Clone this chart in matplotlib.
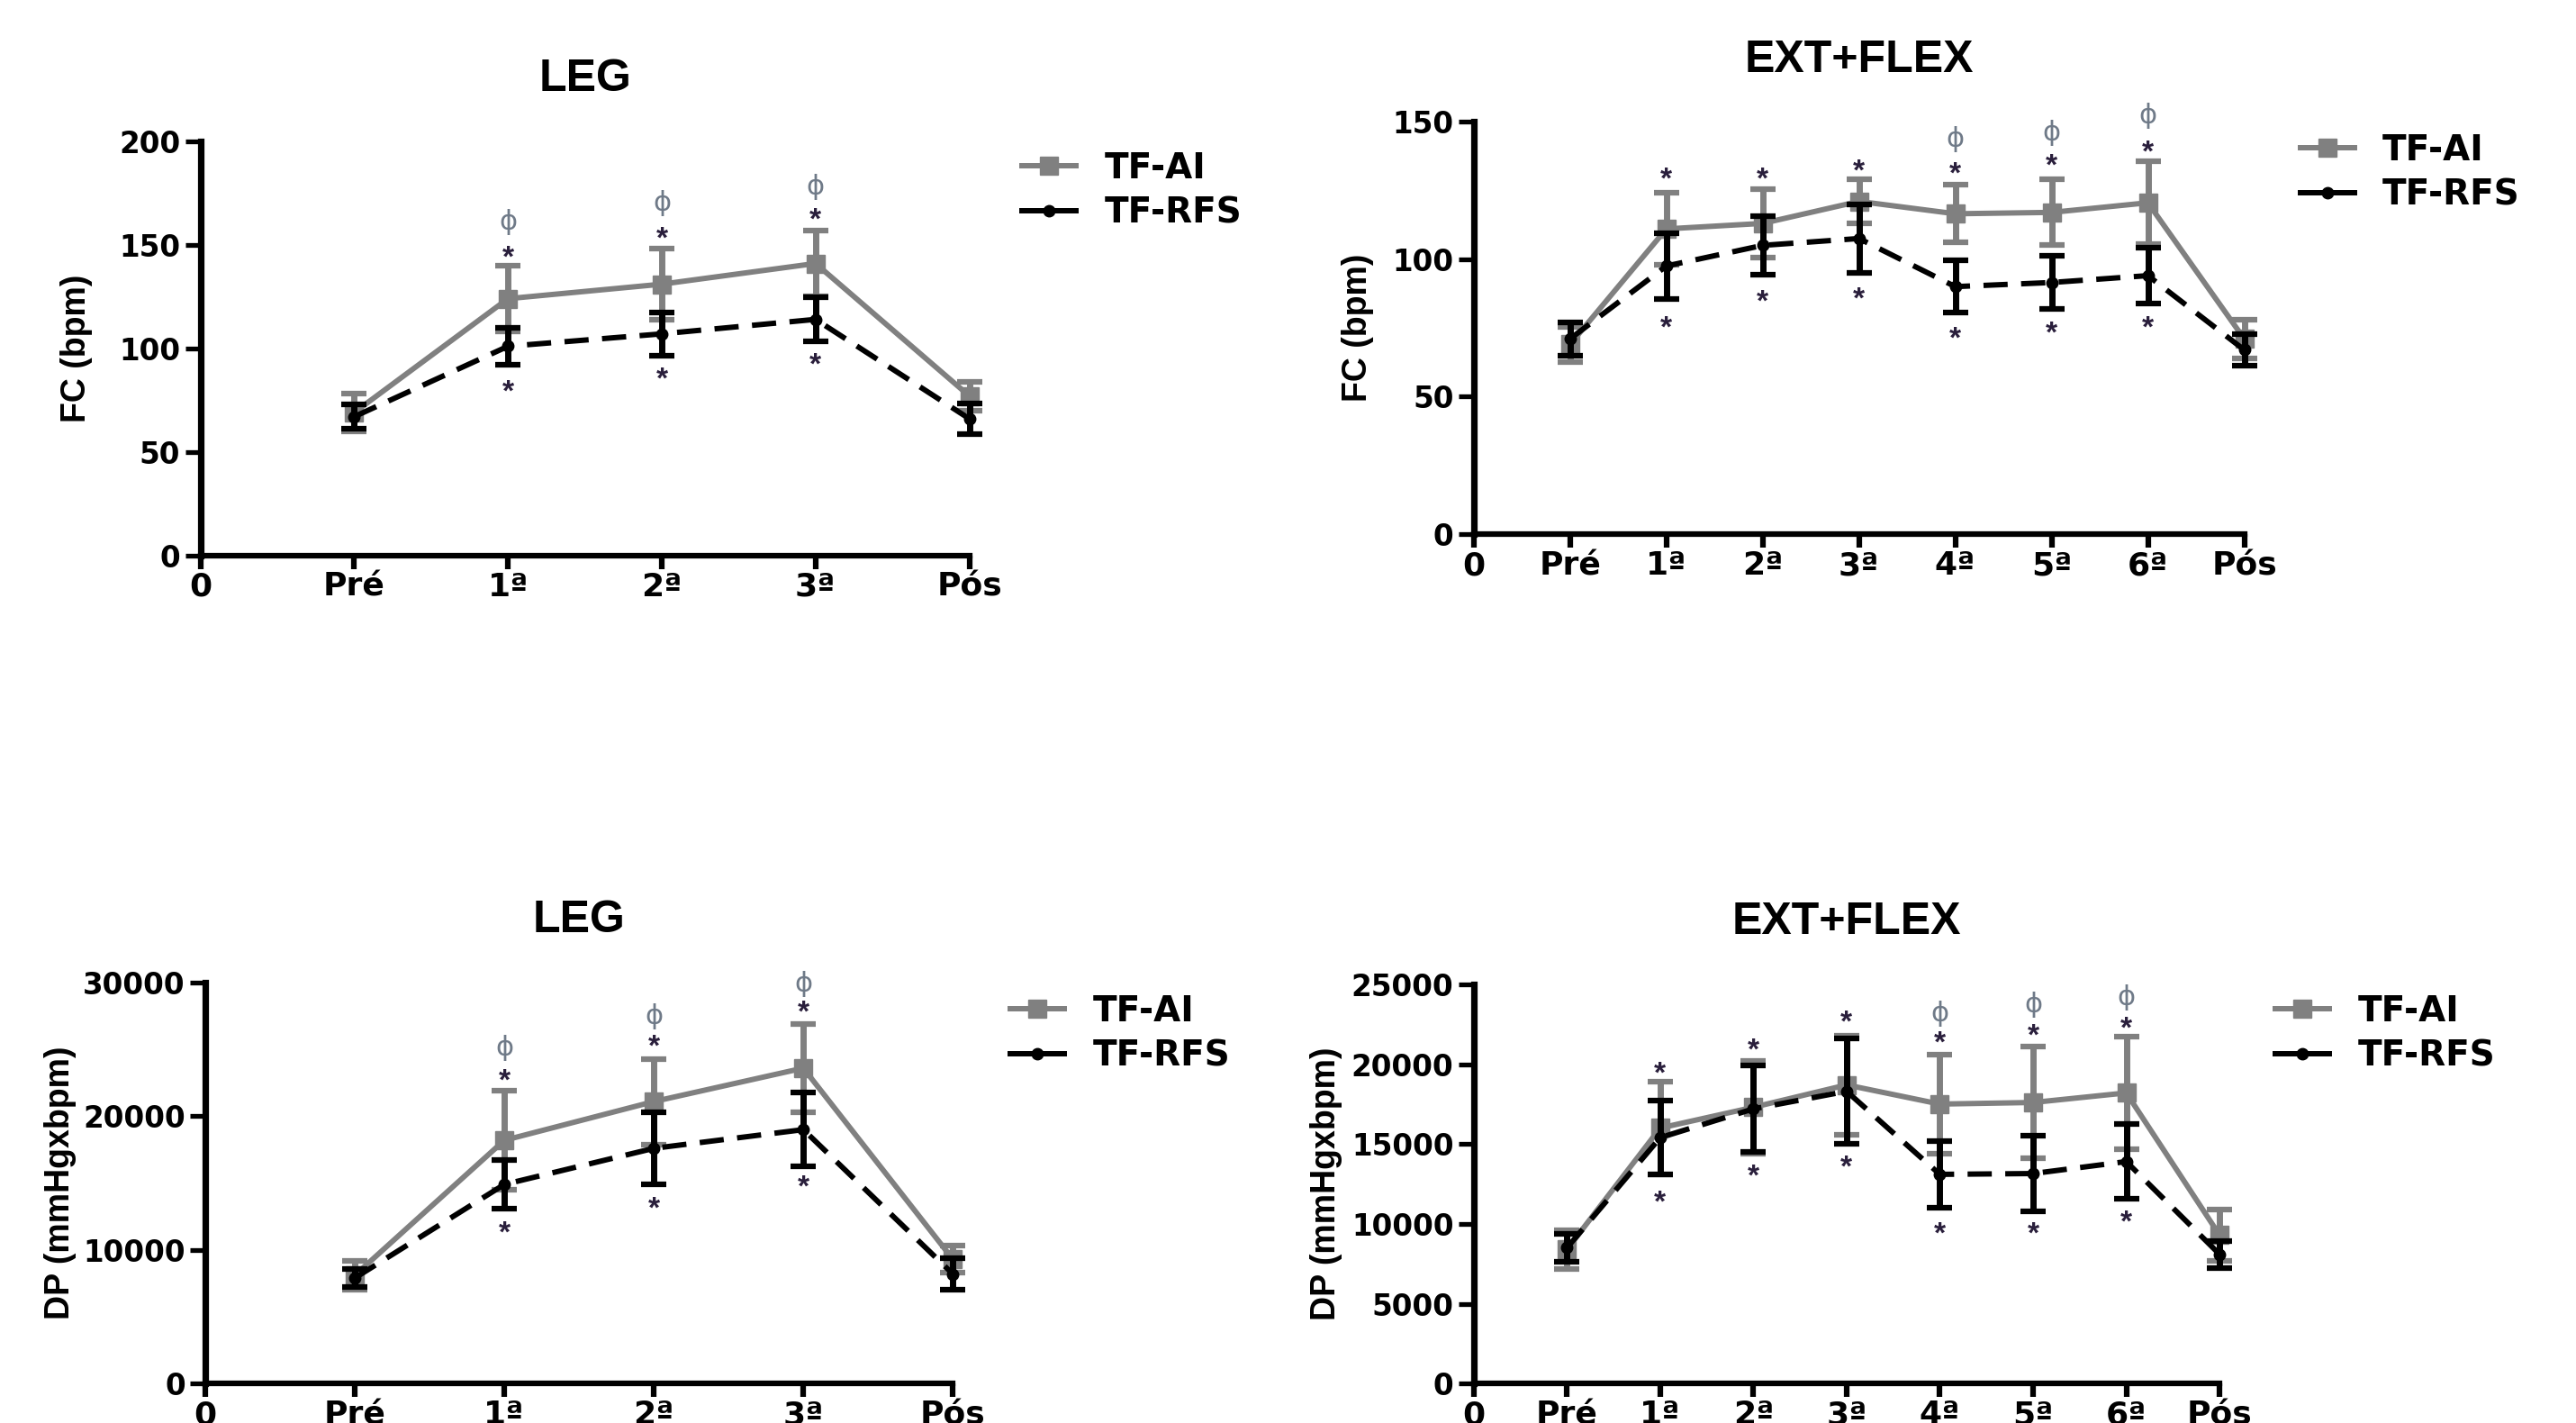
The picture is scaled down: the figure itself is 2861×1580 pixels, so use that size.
import matplotlib
matplotlib.use('Agg')
import matplotlib.pyplot as plt
from matplotlib.lines import Line2D

plt.rcParams['font.family'] = ['Liberation Sans', 'DejaVu Sans']
plt.rcParams['font.weight'] = 'bold'

# ---------------- data ----------------
leg_cats = ['0', 'Pré', '1ª', '2ª', '3ª', 'Pós']
ext_cats = ['0', 'Pré', '1ª', '2ª', '3ª', '4ª', '5ª', '6ª', 'Pós']
series_names = ['TF-AI', 'TF-RFS']

fc_leg_ai = [69, 124, 131, 141, 77]
fc_leg_ai_sd = [9, 16, 17, 16, 7]
fc_leg_rfs = [67, 101, 107, 114, 66]
fc_leg_rfs_sd = [6, 9, 10.5, 10.5, 7.5]
fc_leg_star_up = [None, 148, 157, 166, None]
fc_leg_phi = [None, 161, 170, 178, None]
fc_leg_star_low = [None, 83, 89, 96, None]

fc_ext_ai = [69, 111, 113, 121, 116.5, 117, 120.5, 71]
fc_ext_ai_sd = [6.5, 13, 12.5, 8, 10.5, 12, 15, 7]
fc_ext_rfs = [71, 97.5, 105, 107.5, 90, 91.5, 94, 67]
fc_ext_rfs_sd = [6, 12, 10.5, 12.5, 9.5, 9.7, 10.2, 5.6]
fc_ext_star_up = [None, 132, 132, 135, 134, 137, 142, None]
fc_ext_phi = [None, None, None, None, 143.5, 146, 152, None]
fc_ext_star_low = [None, 78, 87.5, 88.5, 74, 76, 78, None]

dp_leg_ai = [8100, 18200, 21100, 23600, 9300]
dp_leg_ai_sd = [1100, 3700, 3200, 3300, 1000]
dp_leg_rfs = [7900, 14900, 17600, 19000, 8200]
dp_leg_rfs_sd = [700, 1800, 2700, 2750, 1150]
dp_leg_star_up = [None, 23300, 25800, 28400, None]
dp_leg_phi = [None, 25100, 27500, 29900, None]
dp_leg_star_low = [None, 11900, 13700, 15300, None]

dp_ext_ai = [8400, 16000, 17300, 18700, 17500, 17600, 18200, 9300]
dp_ext_ai_sd = [1200, 2900, 2900, 3100, 3100, 3500, 3500, 1600]
dp_ext_rfs = [8500, 15400, 17200, 18300, 13100, 13150, 13900, 8100]
dp_ext_rfs_sd = [900, 2300, 2700, 3300, 2100, 2350, 2350, 850]
dp_ext_star_up = [None, 19900, 21400, 23150, 21850, 22300, 22750, None]
dp_ext_phi = [None, None, None, None, 23150, 23700, 24200, None]
dp_ext_star_low = [None, 11850, 13500, 14050, 9900, 9900, 10600, None]

GRAY = '#808080'
STAR_C = '#2a1f3c'
PHI_C = '#6f7a88'
DASH = (0, (4.5, 2.5))
STAR_FS = 24

fig = plt.figure(figsize=(28.61, 15.80), dpi=100)


def star(ax, xi, yi):
    ax.annotate('*', xy=(xi, yi), xytext=(0, -0.56 * STAR_FS),
                textcoords='offset points', ha='center', va='baseline',
                fontsize=STAR_FS, color=STAR_C, fontweight='bold')


def draw(rect, cats, ai, ai_sd, rfs, rfs_sd, star_up, phi, star_low,
         ymax, ystep, title, ylabel, labx, leg_anchor):
    ax = fig.add_axes(rect)
    x = list(range(1, len(ai) + 1))
    c1 = ax.errorbar(x, ai, yerr=ai_sd, color=GRAY, lw=4.3, marker='s', ms=15,
                     capsize=10, capthick=4.5, elinewidth=5, zorder=3)
    c2 = ax.errorbar(x, rfs, yerr=rfs_sd, color='black', lw=4.3, ls=DASH,
                     marker='o', ms=9, capsize=10, capthick=4.5, elinewidth=5,
                     zorder=4)
    for c in (c1, c2):
        for art in c.get_children():
            art.set_clip_on(False)
    for i, xi in enumerate(x):
        if star_up[i] is not None:
            star(ax, xi, star_up[i])
        if phi[i] is not None:
            ax.text(xi, phi[i], 'ϕ', ha='center', va='center', fontsize=22,
                    color=PHI_C, family=['DejaVu Sans'], fontweight='normal')
        if star_low[i] is not None:
            star(ax, xi, star_low[i])
    ax.set_xlim(0, len(cats) - 1)
    ax.set_xticks(range(len(cats)))
    ax.set_xticklabels(cats)
    ax.set_ylim(0, ymax)
    ax.set_yticks(range(0, ymax + 1, ystep))
    for s in ('top', 'right'):
        ax.spines[s].set_visible(False)
    ax.spines['left'].set_linewidth(5.2)
    ax.spines['bottom'].set_linewidth(4.5)
    ax.tick_params(axis='x', length=11, width=4.5, pad=2, labelsize=26)
    ax.tick_params(axis='y', length=12, width=3.8, pad=4, labelsize=23.5)
    for lbl in ax.get_xticklabels() + ax.get_yticklabels():
        lbl.set_family(['DejaVu Sans'])
        lbl.set_fontweight('bold')
    ax.set_title(title, fontsize=36, fontweight='bold', pad=40)
    ax.set_ylabel(ylabel, fontsize=27, fontweight='bold')
    ax.yaxis.set_label_coords(labx, 0.5)
    handles = [Line2D([], [], color=GRAY, lw=4.3, marker='s', ms=15),
               Line2D([], [], color='black', lw=4.3, ls='-', marker='o', ms=9)]
    ax.legend(handles, series_names, loc='upper left', bbox_to_anchor=leg_anchor,
              bbox_transform=fig.transFigure, frameon=False,
              prop={'family': 'DejaVu Sans', 'weight': 'bold', 'size': 28},
              handlelength=1.55, handletextpad=0.8, labelspacing=0.3,
              borderpad=0, borderaxespad=0)
    return ax


draw([0.0778, 0.6097, 0.2985, 0.2910], leg_cats, fc_leg_ai, fc_leg_ai_sd,
     fc_leg_rfs, fc_leg_rfs_sd, fc_leg_star_up, fc_leg_phi, fc_leg_star_low,
     200, 50, 'LEG', 'FC (bpm)', -0.14, (0.3967, 0.8938))
draw([0.5721, 0.6247, 0.2991, 0.2898], ext_cats, fc_ext_ai, fc_ext_ai_sd,
     fc_ext_rfs, fc_ext_rfs_sd, fc_ext_star_up, fc_ext_phi, fc_ext_star_low,
     150, 50, 'EXT+FLEX', 'FC (bpm)', -0.13, (0.8929, 0.9065))
draw([0.0797, 0.0277, 0.2902, 0.2818], leg_cats, dp_leg_ai, dp_leg_ai_sd,
     dp_leg_rfs, dp_leg_rfs_sd, dp_leg_star_up, dp_leg_phi, dp_leg_star_low,
     30000, 10000, 'LEG', 'DP (mmHgxbpm)', -0.172, (0.3922, 0.3014))
draw([0.5721, 0.0277, 0.2895, 0.2806], ext_cats, dp_ext_ai, dp_ext_ai_sd,
     dp_ext_rfs, dp_ext_rfs_sd, dp_ext_star_up, dp_ext_phi, dp_ext_star_low,
     25000, 5000, 'EXT+FLEX', 'DP (mmHgxbpm)', -0.176, (0.8833, 0.3014))

fig.savefig('out.png', dpi=100)
